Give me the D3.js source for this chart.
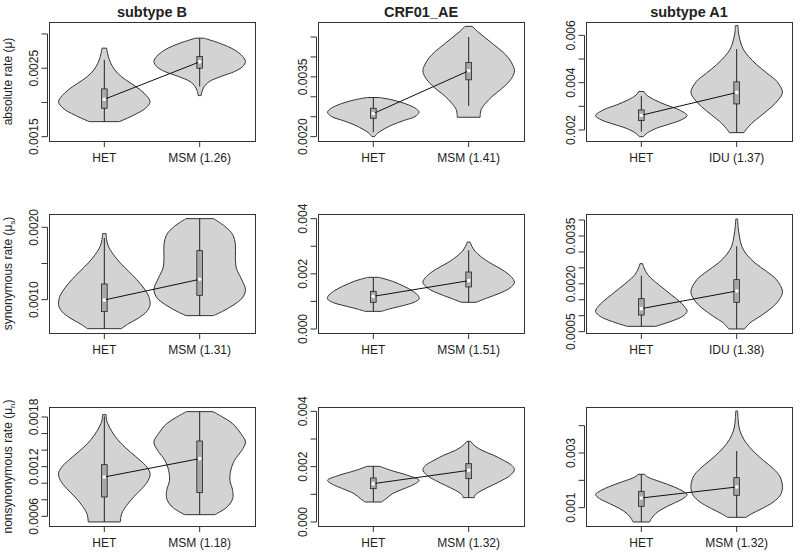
<!DOCTYPE html>
<html><head><meta charset="utf-8">
<script src="https://cdn.jsdelivr.net/npm/d3@7"></script>
<style>body{margin:0;background:#fff}svg{display:block}text{font-family:"Liberation Sans",Arial,sans-serif;fill:#222}</style>
</head><body><svg id="c" width="800" height="555"></svg>
<script>
const titles = ["subtype B", "CRF01_AE", "subtype A1"];
const rowLabels = [["absolute rate (\u03bc", "", ")"], ["synonymous rate (\u03bc", "s", ")"], ["nonsynonymous rate (\u03bc", "n", ")"]];
const groupLabels = [
  ["HET", "MSM (1.26)"], ["HET", "MSM (1.41)"], ["HET", "IDU (1.37)"],
  ["HET", "MSM (1.31)"], ["HET", "MSM (1.51)"], ["HET", "IDU (1.38)"],
  ["HET", "MSM (1.18)"], ["HET", "MSM (1.32)"], ["HET", "MSM (1.32)"]];
const yDomains = [
  [0.001437, 0.003175], [0.001891, 0.004877], [0.001534, 0.006565],
  [0.000539, 0.002184], [-0.000145, 0.004169], [0.000458, 0.004189],
  [0.000483, 0.001921], [-0.000145, 0.004157], [0.000329, 0.004683]];
const yTicks = [
  [0.0015, 0.0020, 0.0025, 0.0030], [0.0020, 0.0025, 0.0030, 0.0035, 0.0040, 0.0045], [0.002, 0.003, 0.004, 0.005, 0.006],
  [0.0010, 0.0015, 0.0020], [0, 0.001, 0.002, 0.003, 0.004], [0.0005, 0.0010, 0.0015, 0.0020, 0.0025, 0.0030, 0.0035, 0.0040],
  [0.0006, 0.0008, 0.0010, 0.0012, 0.0014, 0.0016, 0.0018], [0, 0.001, 0.002, 0.003, 0.004], [0.001, 0.002, 0.003, 0.004]];
const yTickLabels = [
  ["0.0015", "", "0.0025", ""], ["0.0020", "", "", "0.0035", "", ""], ["0.002", "", "0.004", "", "0.006"],
  ["0.0010", "", "0.0020"], ["0.000", "", "0.002", "", "0.004"], ["0.0005", "", "", "0.0020", "", "", "0.0035", ""],
  ["0.0006", "", "", "0.0012", "", "", "0.0018"], ["0.000", "", "0.002", "", "0.004"], ["0.001", "", "0.003", ""]];

// violin profiles: [value, relative half-width]
const absB_HET = [[0.002793,0.05],[0.002720,0.07],[0.002622,0.11],[0.002524,0.18],[0.002427,0.29],[0.002329,0.47],[0.002232,0.69],[0.002134,0.87],[0.002012,1.0],[0.001915,0.9],[0.001817,0.65],[0.001720,0.33]];
const absB_MSM = [[0.002939,0.09],[0.002866,0.43],[0.002768,0.76],[0.002671,0.94],[0.002598,1.0],[0.002524,0.94],[0.002451,0.76],[0.002378,0.46],[0.002305,0.21],[0.002232,0.10],[0.002159,0.05],[0.0021,0.03]];
const absAE_HET = [[0.002982,0.13],[0.002923,0.41],[0.002797,0.77],[0.002688,0.95],[0.002612,1.0],[0.002503,0.91],[0.002403,0.66],[0.002294,0.41],[0.002168,0.2],[0.002084,0.09],[0.0020,0.03]];
const absAE_MSM = [[0.004768,0.08],[0.004643,0.19],[0.004475,0.37],[0.004307,0.55],[0.004139,0.73],[0.003971,0.87],[0.003804,0.96],[0.003653,1.0],[0.003510,0.96],[0.003342,0.85],[0.003174,0.69],[0.003007,0.51],[0.002839,0.37],[0.002671,0.27],[0.002487,0.25]];
const absA1_HET = [[0.003625,0.06],[0.003484,0.11],[0.003272,0.29],[0.003060,0.54],[0.002848,0.83],[0.002608,1.0],[0.002424,0.87],[0.002254,0.62],[0.002071,0.33],[0.001887,0.14],[0.001717,0.04]];
const absA1_IDU = [[0.00641,0.03],[0.0061,0.04],[0.005675,0.09],[0.005392,0.15],[0.00511,0.26],[0.004756,0.44],[0.004403,0.66],[0.004049,0.88],[0.003597,1.0],[0.003272,0.91],[0.002989,0.77],[0.002636,0.55],[0.002283,0.33],[0.002,0.2],[0.001887,0.16]];
const synB_HET = [[0.001912,0.04],[0.001829,0.05],[0.001737,0.09],[0.001622,0.2],[0.001507,0.35],[0.001392,0.53],[0.001276,0.71],[0.001161,0.86],[0.001046,0.97],[0.000931,1.0],[0.000839,0.93],[0.000747,0.75],[0.000668,0.53],[0.000599,0.37]];
const synB_MSM = [[0.00212,0.3],[0.002014,0.55],[0.001899,0.72],[0.00176,0.78],[0.001599,0.78],[0.001438,0.8],[0.0013,0.9],[0.001138,1.0],[0.001023,0.93],[0.000931,0.75],[0.000839,0.5],[0.000779,0.3]];
const synAE_HET = [[0.001873,0.12],[0.001728,0.42],[0.001547,0.67],[0.001366,0.87],[0.001184,0.99],[0.001088,1.0],[0.000967,0.89],[0.000846,0.64],[0.000725,0.35],[0.00064,0.18]];
const synAE_MSM = [[0.003154,0.03],[0.002997,0.07],[0.002816,0.14],[0.002634,0.26],[0.002393,0.47],[0.002151,0.73],[0.001909,0.92],[0.001692,1.0],[0.001486,0.9],[0.001305,0.69],[0.001124,0.4],[0.000967,0.16]];
const synA1_HET = [[0.002632,0.03],[0.002496,0.06],[0.002287,0.14],[0.002078,0.29],[0.001869,0.47],[0.00166,0.65],[0.001451,0.83],[0.001294,0.94],[0.001137,1.0],[0.000981,0.9],[0.000824,0.65],[0.000667,0.31]];
const synA1_IDU = [[0.004032,0.02],[0.003802,0.03],[0.003489,0.06],[0.003175,0.11],[0.002914,0.22],[0.002653,0.4],[0.002391,0.65],[0.00213,0.87],[0.001764,1.0],[0.001503,0.93],[0.001242,0.76],[0.000981,0.51],[0.000772,0.29],[0.000584,0.17]];
const nonB_HET = [[0.001828,0.04],[0.00176,0.05],[0.001679,0.11],[0.001579,0.22],[0.001478,0.37],[0.001377,0.57],[0.001277,0.78],[0.001196,0.93],[0.001116,1.0],[0.001035,0.96],[0.000934,0.82],[0.000834,0.64],[0.000733,0.49],[0.000632,0.38],[0.000532,0.35]];
const nonB_MSM = [[0.001865,0.29],[0.0018,0.5],[0.00172,0.72],[0.001599,0.9],[0.001498,1.0],[0.001397,0.92],[0.001277,0.76],[0.001156,0.68],[0.001035,0.66],[0.000914,0.72],[0.000813,0.72],[0.000713,0.6],[0.00062,0.33]];
const nonAE_HET = [[0.002012,0.14],[0.001867,0.38],[0.001687,0.75],[0.001506,1.0],[0.001361,0.89],[0.001205,0.67],[0.001024,0.42],[0.000843,0.28],[0.000723,0.18]];
const nonAE_MSM = [[0.002916,0.04],[0.002771,0.12],[0.00259,0.29],[0.00241,0.55],[0.002229,0.76],[0.002048,0.94],[0.001892,1.0],[0.001687,0.91],[0.001506,0.73],[0.001325,0.51],[0.001145,0.29],[0.000988,0.15],[0.00088,0.12]];
const nonA1_HET = [[0.00222,0.07],[0.002122,0.14],[0.001939,0.43],[0.001756,0.72],[0.001573,0.94],[0.001476,1.0],[0.001329,0.91],[0.001146,0.69],[0.000963,0.47],[0.00078,0.31],[0.000598,0.22],[0.000476,0.18]];
const nonA1_MSM = [[0.004537,0.02],[0.004256,0.03],[0.003951,0.05],[0.003646,0.11],[0.003341,0.22],[0.003037,0.38],[0.002732,0.58],[0.002427,0.8],[0.002122,0.95],[0.001732,1.0],[0.001451,0.95],[0.001207,0.8],[0.000963,0.55],[0.00078,0.33],[0.000646,0.2]];

// box stats: [lower whisker, q1, median, q3, upper whisker]
const statsHET = [
  [0.001720, 0.001915, 0.002046, 0.002198, 0.002622], [0.00211, 0.002461, 0.002579, 0.002713, 0.002982], [0.001929, 0.002396, 0.002622, 0.002848, 0.003442],
  [0.000599, 0.000834, 0.000995, 0.001217, 0.001853], [0.00064, 0.000967, 0.001184, 0.001366, 0.001873], [0.000667, 0.001022, 0.001221, 0.001534, 0.002255],
  [0.000532, 0.000834, 0.001075, 0.001224, 0.001808], [0.000723, 0.001205, 0.001386, 0.00159, 0.002012], [0.000476, 0.001049, 0.001354, 0.001598, 0.00222]];
const statsRisk = [
  [0.002232, 0.0025, 0.002593, 0.002671, 0.002939], [0.002772, 0.003426, 0.003653, 0.003862, 0.0045], [0.001887, 0.003102, 0.003583, 0.004035, 0.00542],
  [0.000779, 0.00106, 0.001281, 0.001677, 0.00212], [0.000967, 0.001523, 0.001752, 0.002066, 0.002852], [0.000584, 0.00142, 0.001775, 0.00213, 0.003175],
  [0.00062, 0.000886, 0.001297, 0.00151, 0.001865], [0.00088, 0.001566, 0.001867, 0.002108, 0.002916], [0.000646, 0.001451, 0.001756, 0.002098, 0.003073]];

const profilesHET = [absB_HET, absAE_HET, absA1_HET, synB_HET, synAE_HET, synA1_HET, nonB_HET, nonAE_HET, nonA1_HET];
const profilesRisk = [absB_MSM, absAE_MSM, absA1_IDU, synB_MSM, synAE_MSM, synA1_IDU, nonB_MSM, nonAE_MSM, nonA1_MSM];

const svg = d3.select("#c");
const colLeft = [49, 318, 586], rowTop = [22, 214, 407], PW = 206, PH = 119;
const maxHalf = 0.48, boxHalf = 0.03;

for (let i = 0; i < 9; i++) {
  const r = Math.floor(i / 3), c = i % 3;
  const L = colLeft[c], T = rowTop[r];
  const x = d3.scaleLinear().domain([0.42, 2.58]).range([L, L + PW]);
  const y = d3.scaleLinear().domain(yDomains[i]).range([T + PH, T]);
  const g = svg.append("g");

  const violins = [{pos: 1, prof: profilesHET[i], st: statsHET[i]}, {pos: 2, prof: profilesRisk[i], st: statsRisk[i]}];
  violins.forEach(v => {
    const area = d3.area()
      .y(d => y(d[0]))
      .x0(d => x(v.pos - d[1] * maxHalf))
      .x1(d => x(v.pos + d[1] * maxHalf))
      .curve(d3.curveCatmullRom.alpha(0.5));
    g.append("path").attr("d", area(v.prof)).attr("fill", "#d3d3d3").attr("stroke", "#333").attr("stroke-width", 1);
  });
  violins.forEach(v => {
    const xc = x(v.pos);
    g.append("line").attr("x1", xc).attr("x2", xc).attr("y1", y(v.st[0])).attr("y2", y(v.st[4]))
      .attr("stroke", "#222").attr("stroke-width", 1);
    g.append("rect").attr("x", x(v.pos - boxHalf)).attr("width", x(v.pos + boxHalf) - x(v.pos - boxHalf))
      .attr("y", y(v.st[3])).attr("height", y(v.st[1]) - y(v.st[3]))
      .attr("fill", "#a8a8a8").attr("stroke", "#222").attr("stroke-width", 0.8);
  });
  g.append("line").attr("x1", x(1)).attr("y1", y(statsHET[i][2])).attr("x2", x(2)).attr("y2", y(statsRisk[i][2]))
    .attr("stroke", "#111").attr("stroke-width", 1);
  violins.forEach(v => {
    g.append("circle").attr("cx", x(v.pos)).attr("cy", y(v.st[2])).attr("r", 1.8).attr("fill", "#fff");
  });

  // frame
  g.append("rect").attr("x", L + 0.5).attr("y", T + 0.5).attr("width", PW).attr("height", PH)
    .attr("fill", "none").attr("stroke", "#333").attr("stroke-width", 1);

  // x axis ticks/labels
  [1, 2].forEach((p, k) => {
    g.append("line").attr("x1", x(p)).attr("x2", x(p)).attr("y1", T + PH).attr("y2", T + PH + 6).attr("stroke", "#333");
    g.append("text").attr("x", x(p)).attr("y", T + PH + 21).attr("text-anchor", "middle").attr("font-size", 12).text(groupLabels[i][k]);
  });

  // y axis
  const yt = yTicks[i];
  const ax = L - 1.5;
  g.append("line").attr("x1", ax).attr("x2", ax).attr("y1", y(yt[0])).attr("y2", y(yt[yt.length - 1])).attr("stroke", "#333");
  yt.forEach((t, k) => {
    g.append("line").attr("x1", ax).attr("x2", ax - 6).attr("y1", y(t)).attr("y2", y(t)).attr("stroke", "#333");
    if (yTickLabels[i][k]) {
      g.append("text").attr("transform", `translate(${L - 11},${y(t)}) rotate(-90)`)
        .attr("text-anchor", "middle").attr("font-size", 12).text(yTickLabels[i][k]);
    }
  });

  if (r === 0) {
    g.append("text").attr("x", L + PW / 2).attr("y", 16.5).attr("text-anchor", "middle")
      .attr("font-size", 14.5).attr("font-weight", "bold").text(titles[c]);
  }
  if (c === 0) {
    const t = g.append("text").attr("transform", `translate(12,${T + PH / 2}) rotate(-90)`)
      .attr("text-anchor", "middle").attr("font-size", 12);
    t.append("tspan").text(rowLabels[r][0]);
    if (rowLabels[r][1]) t.append("tspan").attr("font-size", 8).attr("dy", 3).text(rowLabels[r][1]);
    t.append("tspan").attr("dy", rowLabels[r][1] ? -3 : 0).text(rowLabels[r][2]);
  }
}
</script></body></html>
